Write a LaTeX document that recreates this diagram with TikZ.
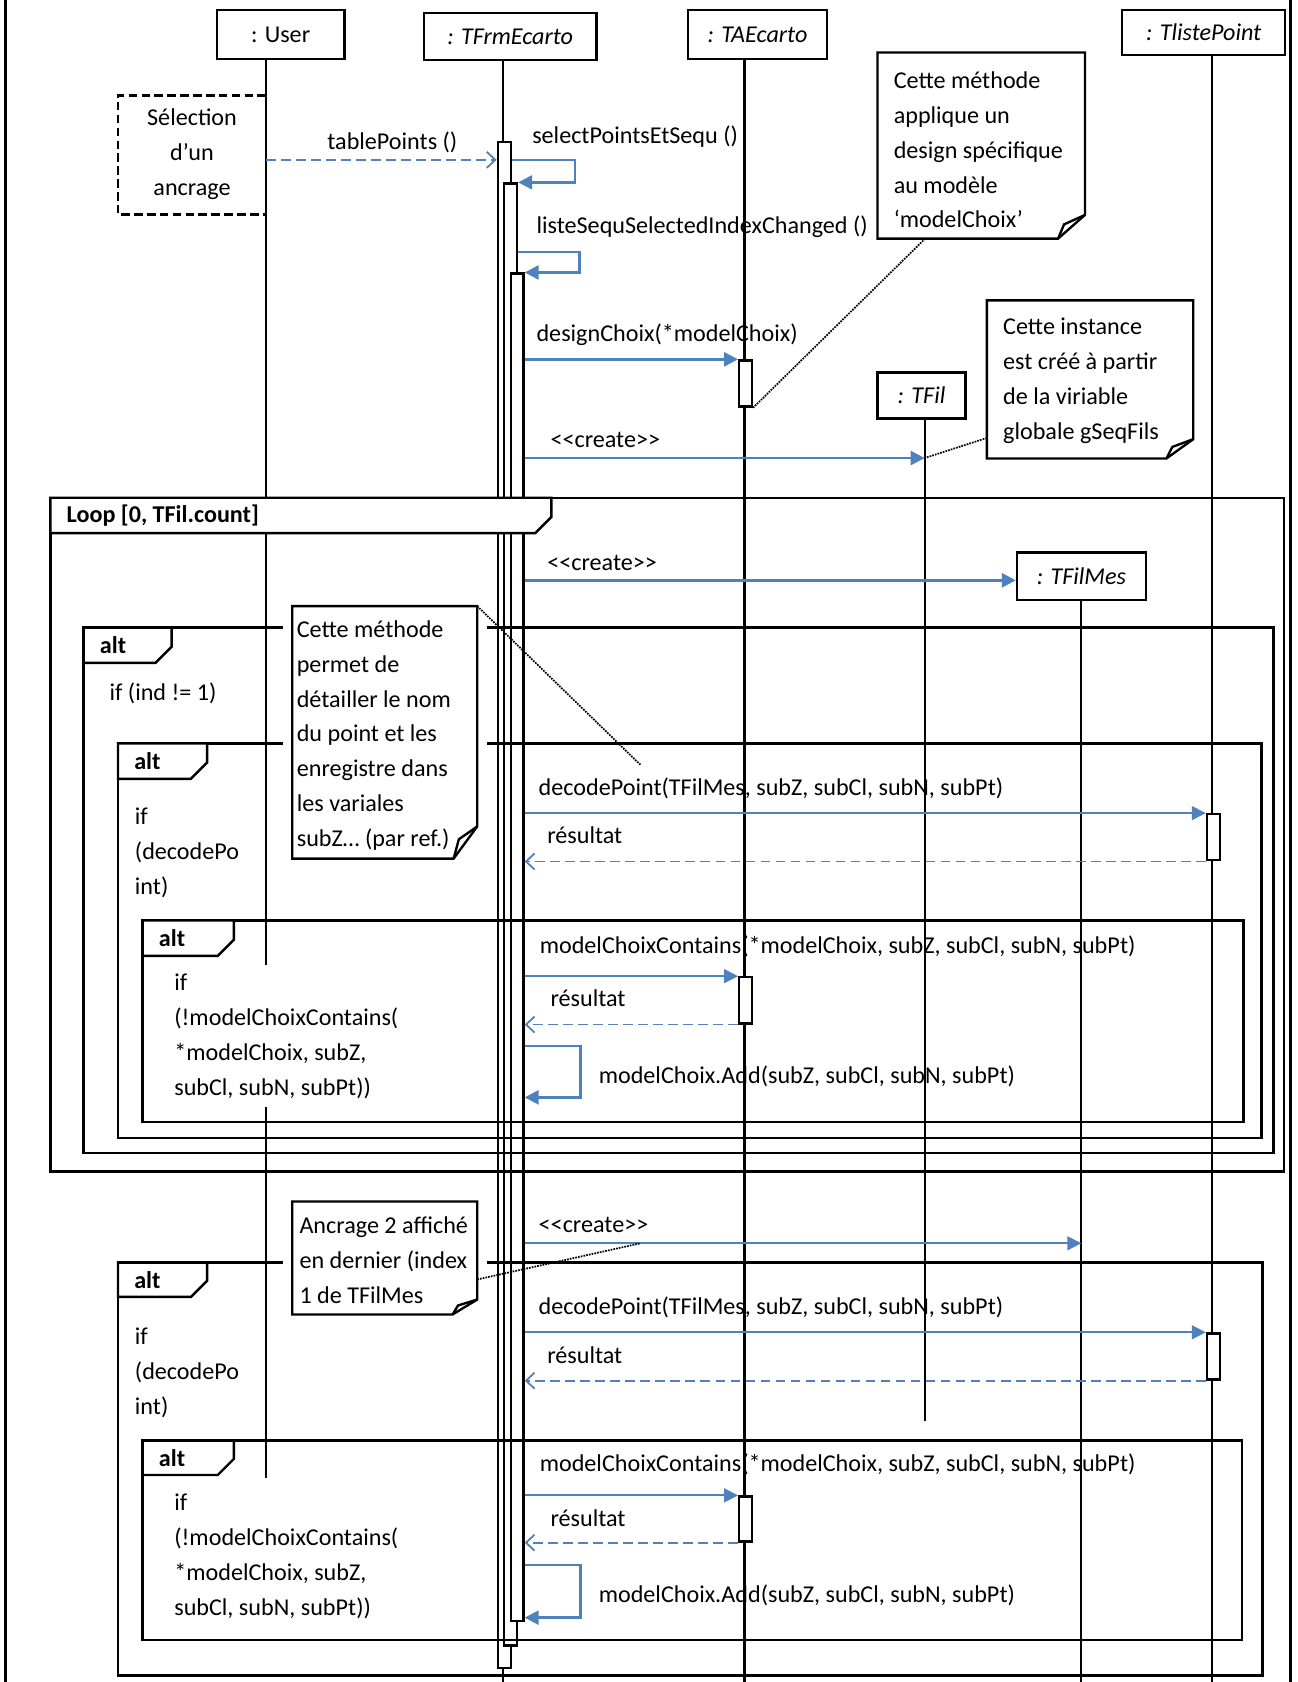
\documentclass[tikz,border=0pt]{standalone}
\usepackage{fontspec}
\setmainfont{Carlito}
\usetikzlibrary{arrows.meta, calc}
\definecolor{msgblue}{RGB}{79,129,189}

% combined fragment: name, x1, y1, x2, y2, header width, header height, label
\newcommand{\umlframe}[8]{%
  \draw[frameline] (#2,#3) rectangle (#4,#5);
  \draw[frameline, fill=white] (#2,#3) -- ++(#6,0) -- ++(0,#7-15) -- ++(-15,15) -- (#2,#3+#7) -- cycle;
  \node[framelbl] (#1) at (#2+15,#3+#7/2) {#8};
}
% note outline with dog-ear: node name, fold x, fold y
\newcommand{\notefold}[3]{%
  \fill[white] ([xshift=-9pt]#1.north west) rectangle (#1.south west);
  \fill[white] (#1.north east) rectangle ([xshift=9pt]#1.south east);
  \draw[noteline] (#1.north west) -- (#1.north east) -- ($(#1.south east)+(0,-#3)$)
     -- ($(#1.south east)+(-#2,0)$) -- (#1.south west) -- cycle;
  \draw[noteline] ($(#1.south east)+(-#2,0)$) -- ($(#1.south east)+(-0.78*#2,-0.6*#3)$)
     -- ($(#1.south east)+(0,-#3)$);
}
\newcommand{\stereo}[1]{<\kern0pt<#1>\kern0pt>}

\begin{document}
\begin{tikzpicture}[
    x=1pt, y=-1pt,
    >={Triangle[length=13pt, width=13pt]},
    every node/.style={font=\fontsize{22.5}{32.5}\selectfont},
    obj/.style    ={draw, line width=2.2pt, fill=white, anchor=north west, inner sep=0pt},
    life/.style   ={line width=2pt},
    bar/.style    ={draw, line width=2.1pt, fill=white, anchor=north west, inner sep=0pt,
                    minimum width=12pt},
    frameline/.style={line width=2.3pt},
    framelbl/.style ={anchor=west, inner sep=0pt, font=\fontsize{22.5}{32.5}\selectfont\bfseries},
    cond/.style   ={anchor=west, align=left, fill=white, inner xsep=0pt, inner ysep=8pt},
    lbl/.style    ={anchor=west, inner sep=0pt},
    msg/.style    ={->, line width=2.4pt, draw=msgblue},
    msgthin/.style={->, line width=1.7pt, draw=msgblue},
    reply/.style  ={-{Straight Barb[length=8pt, width=15pt]}, line width=1.7pt, draw=msgblue!90!gray,
                    dash pattern=on 9pt off 5pt},
    selbox/.style ={line width=2.3pt, dash pattern=on 8pt off 4pt},
    notebox/.style={fill=white, anchor=north west, inner sep=0pt},
    notetxt/.style={anchor=west, align=left, inner sep=0pt},
    noteline/.style={line width=2.2pt},
    link/.style   ={densely dotted, line width=1.6pt},
]
\useasboundingbox (0,0) rectangle (1210,1568);
\draw[frameline] (5,0) -- (5,1568);
\draw[frameline] (1203,0) -- (1203,1568);

% lifeline axes
\coordinate (uL)  at (248,0);
\coordinate (fL)  at (469,0);
\coordinate (aL)  at (694,0);
\coordinate (fiL) at (862,0);
\coordinate (fmL) at (1008,0);
\coordinate (pL)  at (1130,0);

\node[obj, minimum width=119pt, minimum height=46pt] (user) at (201,8)   {: User};
\node[obj, minimum width=161pt, minimum height=44pt] (frm)  at (394,11)  {\itshape : TFrmEcarto};
\node[obj, minimum width=130pt, minimum height=46pt] (tae)  at (640,8)   {\itshape : TAEcarto};
\node[obj, minimum width=152pt, minimum height=42pt] (tlp)  at (1045,8)  {\itshape : TlistePoint};
\node[obj, minimum width=82pt,  minimum height=43pt] (tfil) at (817,346) {\itshape : TFil};
\node[obj, minimum width=120pt, minimum height=44pt] (tfm)  at (947,514) {\itshape : TFilMes};

\draw[life] (user.south -| uL) -- (248,1378);
\draw[life] (frm.south -| fL)  -- (469,131);
\draw[life] (tae.south -| aL)  -- (694,1568);
\draw[life] (tlp.south -| pL)  -- (1130,1568);
\draw[life] (tfil.south -| fiL) -- (862,1325);
\draw[life] (tfm.south -| fmL) -- (1008,1568);
\draw[life] (469,1554) -- (469,1568);

% activation bars
\node[bar, minimum height=1423pt] (fb1) at (463,131) {};
\node[bar, minimum height=1363pt] (fb2) at (469,170) {};
\node[bar, minimum height=1256pt] (fb3) at (475,254) {};
\node[bar, minimum height=43pt] (ta1) at (688,335)  {};
\node[bar, minimum height=43pt] (ta2) at (688,910)  {};
\node[bar, minimum height=42pt] (ta3) at (688,1394) {};
\node[bar, minimum height=43pt] (tl1) at (1124,758)  {};
\node[bar, minimum height=43pt] (tl2) at (1124,1242) {};

% fragments
\umlframe{loopF}{47}{464}{1197}{1092}{467}{33}{Loop [0, TFil.count]}
\umlframe{altA}{78}{585}{1187}{1075}{82}{33}{alt}
\umlframe{altB}{110}{693}{1176}{1061}{83}{33}{alt}
\umlframe{altC}{133}{858}{1159}{1046}{85}{33}{alt}
\umlframe{altD}{110}{1177}{1177}{1562}{83}{32}{alt}
\umlframe{altE}{133}{1343}{1158}{1529}{85}{32}{alt}
\node[cond] (c1) at (102,646)    {if (ind != 1)};
\node[cond] (c2) at (125.6,795)  {if\\(decodePo\\int)};
\node[cond] (c3) at (162.3,966)  {if\\(!modelChoixContains(\\*modelChoix, subZ,\\subCl, subN, subPt))};
\node[cond] (c4) at (125.6,1280) {if\\(decodePo\\int)};
\node[cond] (c5) at (162.3,1451) {if\\(!modelChoixContains(\\*modelChoix, subZ,\\subCl, subN, subPt))};

\draw[selbox] (uL |- 0,89) -- (110,89) -- (110,200) -- (uL |- 0,200);
\node[align=center, inner sep=0pt] (sel) at (179,144) {Sélection\\d’un\\ancrage};

% notes
\node[notebox, minimum width=193pt, minimum height=173pt] (n1) at (818,49) {};
\notefold{n1}{25}{22}
\node[notetxt] (n1t) at ($(n1.west)+(15,4)$) {Cette méthode\\applique un\\design spécifique\\au modèle\\‘modelChoix’};
\node[notebox, minimum width=192pt, minimum height=147pt] (n2) at (920,280) {};
\notefold{n2}{25}{18}
\node[notetxt] (n2t) at ($(n2.west)+(15,1)$) {Cette instance\\est créé à partir\\de la viriable\\globale gSeqFils};
\node[notebox, minimum width=172pt, minimum height=235pt] (n3) at (272.5,565) {};
\notefold{n3}{22}{30}
\node[notetxt] (n3t) at ($(n3.west)+(4,3)$) {Cette méthode\\permet de\\détailler le nom\\du point et les\\enregistre dans\\les variales\\subZ… (par ref.)};
\node[notebox, minimum width=172pt, minimum height=105pt] (n4) at (272.5,1120) {};
\notefold{n4}{23}{14}
\node[notetxt] (n4t) at ($(n4.west)+(6.5,2)$) {Ancrage 2 affiché\\en dernier (index\\1 de TFilMes};

% messages
\draw[reply] (uL |- 0,149) -- (fb1.west |- 0,149);
\node[lbl] (l1) at (305,133) {tablePoints ()};
\draw[msg] (fb1.east |- 0,149) -- ++(59,0) |- (fb2.north east);
\node[lbl] (l2) at (496,127) {selectPointsEtSequ ()};
\draw[msg] (fb2.east |- 0,235) -- ++(57,0) |- (fb3.north east);
\node[lbl] (l3) at (500,211) {listeSequSelectedIndexChanged ()};
\draw[msg] (fb3.east |- ta1.north) -- (ta1.north west);
\node[lbl] (l4) at (500,312) {designChoix(*modelChoix)};
\draw[msg] (fb3.east |- 0,427) -- (fiL |- 0,427);
\node[lbl] (l5) at (513,410) {\stereo{create}};
\draw[msg] (fb3.east |- 0,541) -- (tfm.west |- 0,541);
\node[lbl] (l6) at (510,525) {\stereo{create}};
\draw[msgthin] (fb3.east |- tl1.north) -- (tl1.north west);
\node[lbl] (l7) at (502,735) {decodePoint(TFilMes, subZ, subCl, subN, subPt)};
\draw[reply] (tl1.south west) -- (fb3.east |- tl1.south);
\node[lbl] (l8) at (510,779) {résultat};
\draw[msgthin] (fb3.east |- ta2.north) -- (ta2.north west);
\node[lbl] (l9) at (503,882) {modelChoixContains(*modelChoix, subZ, subCl, subN, subPt)};
\draw[reply] (ta2.south west) -- (fb3.east |- ta2.south);
\node[lbl] (l10) at (513,931) {résultat};
\draw[msg] (fb3.east |- 0,975) -- ++(52,0) |- (fb3.east |- 0,1023);
\node[lbl] (l11) at (558,1003) {modelChoix.Add(subZ, subCl, subN, subPt)};
\draw[msgthin] (fb3.east |- 0,1159) -- (fmL |- 0,1159);
\node[lbl] (l12) at (502,1142) {\stereo{create}};
\draw[msgthin] (fb3.east |- tl2.north) -- (tl2.north west);
\node[lbl] (l13) at (502,1219) {decodePoint(TFilMes, subZ, subCl, subN, subPt)};
\draw[reply] (tl2.south west) -- (fb3.east |- tl2.south);
\node[lbl] (l14) at (510,1263) {résultat};
\draw[msgthin] (fb3.east |- ta3.north) -- (ta3.north west);
\node[lbl] (l15) at (503,1365) {modelChoixContains(*modelChoix, subZ, subCl, subN, subPt)};
\draw[reply] (ta3.south west) -- (fb3.east |- ta3.south);
\node[lbl] (l16) at (513,1415) {résultat};
\draw[msg] (fb3.east |- 0,1459) -- ++(52,0) |- (fb3.east |- 0,1508);
\node[lbl] (l17) at (558,1487) {modelChoix.Add(subZ, subCl, subN, subPt)};

% note links
\coordinate (n3end) at (597,713);
\coordinate (n4end) at (597,1159);
\draw[link] ($(n1.south west)!0.23!(n1.south east)$) -- (ta1.south east);
\draw[link] ($(n2.north west)!0.87!(n2.south west)$) -- (fiL |- 0,427);
\draw[link] (n3.north east) -- (n3end);
\draw[link] ($(n4.north east)!0.69!(n4.south east)$) -- (n4end);
\end{tikzpicture}
\end{document}
